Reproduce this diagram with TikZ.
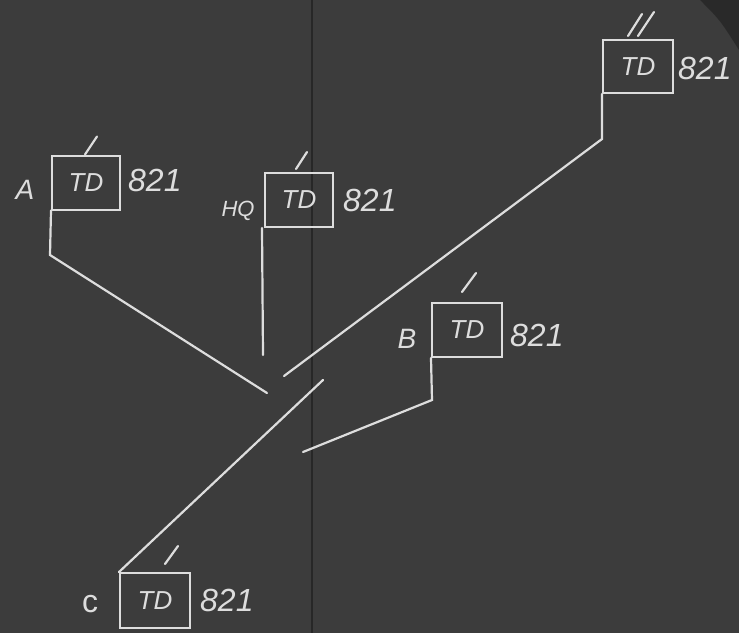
\documentclass[tikz,border=0pt]{standalone}
\usepackage{fontspec}
\setmainfont{Liberation Sans}
\begin{document}
\begin{tikzpicture}[x=1pt,y=-1pt,
  chalk/.style={draw=chalkc,line width=2.2pt,line cap=round},
  unitbox/.style={draw=chalkc,line width=2pt,minimum width=68pt,minimum height=54pt,inner sep=0pt,
     text=chalkc,font=\fontsize{26}{26}\selectfont\itshape},
  num/.style={text=chalkc,font=\fontsize{32}{32}\selectfont\itshape,inner sep=0pt,anchor=west},
  lab/.style={text=chalkc,font=\fontsize{28}{28}\selectfont\itshape,inner sep=0pt}]
\definecolor{chalkc}{HTML}{DDDDDD}
\definecolor{bgc}{HTML}{3C3C3C}
\useasboundingbox (0,0) rectangle (739,633);
\fill[bgc] (0,0) rectangle (739,633);
\fill[black!60!bgc,opacity=0.5] (739,0) -- (700,0) .. controls (720,20) .. (739,50) -- cycle;
\draw[black!35!bgc,line width=1.6pt] (312,0) -- (312,633);
% units
\node[unitbox] (A) at (86,182.5) {TD};
\node[unitbox] (HQ) at (299,200) {TD};
\node[unitbox,minimum width=70pt,minimum height=53pt] (BN) at (638,66.5) {TD};
\node[unitbox,minimum width=70pt] (B) at (467,330) {TD};
\node[unitbox,minimum width=70pt,minimum height=55pt] (C) at (155,600.5) {TD};
% numbers
\node[num] (nA) at ([xshift=7pt,yshift=2pt]A.east) {821};
\node[num] (nHQ) at ([xshift=9pt,yshift=0pt]HQ.east) {821};
\node[num] (nBN) at ([xshift=4pt,yshift=-2pt]BN.east) {821};
\node[num] (nB) at ([xshift=7pt,yshift=-5pt]B.east) {821};
\node[num] (nC) at ([xshift=9pt,yshift=0pt]C.east) {821};
% letters
\node[lab] (lA) at (25,190) {A};
\node[lab,font=\fontsize{22}{22}\selectfont\itshape] (lHQ) at (238,211) {HQ};
\node[lab] (lB) at (407,339) {B};
\node[lab,font=\fontsize{32}{32}\selectfont] (lC) at (90,604) {c};
% size ticks
\draw[chalk] ([shift={(-1,0)}]A.north) -- ++(12,-18);
\draw[chalk] ([shift={(-3,-3)}]HQ.north) -- ++(11,-17);
\draw[chalk] ([shift={(-10,-3)}]BN.north) -- ++(14,-22);
\draw[chalk] ([shift={(0,-3)}]BN.north) -- ++(16,-24);
\draw[chalk] ([shift={(-5,-10)}]B.north) -- ++(14,-19);
\draw[chalk] ([shift={(10,-8)}]C.north) -- ++(13,-18);
% staffs and connectors
\coordinate (eA) at (50,255);
\coordinate (jA) at (267,393);
\coordinate (jHQ) at (263,355);
\coordinate (eBN) at (602,139);
\coordinate (jBN) at (284,376);
\coordinate (eB) at (432,400);
\coordinate (jB) at (303,452);
\coordinate (jC) at (323,380);
\draw[chalk] (A.south west) -- (eA) -- (jA);
\draw[chalk] ([xshift=-2pt]HQ.south west) -- (jHQ);
\draw[chalk] (BN.south west) -- (eBN) -- (jBN);
\draw[chalk] (B.south west) -- (eB) -- (jB);
\draw[chalk] (C.north west) -- (jC);
\end{tikzpicture}
\end{document}
